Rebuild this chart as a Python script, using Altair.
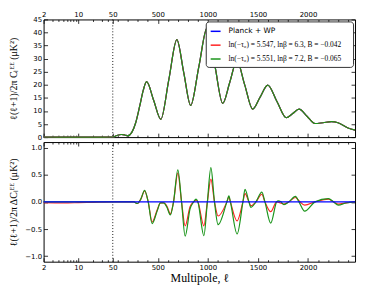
import math
import altair as alt
import pandas as pd

# ---------------- data ----------------
ell_top = [2, 10, 30, 50, 90, 135, 170, 200, 240, 279, 320, 355, 388, 459, 530, 610, 690, 759, 828, 910,
           992, 1070, 1148, 1219, 1290, 1368, 1447, 1522, 1598, 1690, 1783, 1847, 1911, 1990, 2069, 2150,
           2234, 2300, 2400, 2470]
cl_top = [0.05, 0.02, 0.02, 0.05, 0.6, 1.0, 0.8, 0.5, 1.8, 5.5, 12.0, 18.0, 21.2, 14.0, 6.8, 22.0, 37.3, 24.7,
          12.1, 27.0, 41.8, 27.3, 12.9, 21.0, 29.2, 20.0, 10.7, 15.3, 19.9, 13.6, 7.4, 9.0, 10.7, 8.0, 5.2,
          5.5, 5.9, 5.5, 3.5, 2.7]

ell_red = [2, 5, 10, 20, 50, 150, 260, 295, 330, 368, 404, 443, 493, 526, 559, 591, 625, 657, 700, 737,
           773, 822, 858, 882, 900, 960, 995, 1030, 1066, 1102, 1190, 1210, 1225, 1292, 1350, 1371, 1410,
           1430, 1480, 1539, 1570, 1628, 1687, 1760, 1809, 1875, 1910, 1967, 2070, 2204, 2255, 2303, 2380, 2470]
d_red = [-0.015, -0.02, -0.015, -0.008, 0, 0, 0, -0.03, 0.05, 0.20, 0, -0.37, -0.15, -0.02, -0.02, -0.08,
         -0.22, 0, 0.53, 0, -0.44, -0.09, 0, 0.03, 0, -0.44, 0, 0.42, 0, -0.26, 0, 0.09, 0, -0.35, 0, 0.15,
         0, -0.07, 0, 0.14, 0, -0.18, 0, -0.04, 0, 0.08, 0.02, -0.06, 0, 0.05, 0, -0.04, -0.02, 0]

ell_green = [2, 50, 150, 260, 295, 330, 368, 404, 443, 493, 526, 559, 591, 625, 657, 700, 737, 773, 822, 858,
             882, 900, 960, 995, 1030, 1066, 1102, 1190, 1210, 1225, 1292, 1350, 1371, 1410, 1430, 1480, 1539,
             1570, 1628, 1687, 1704, 1730, 1760, 1809, 1875, 1910, 1967, 2070, 2204, 2255, 2303, 2380, 2470]
d_green = [0, 0, 0, 0, -0.03, 0.05, 0.21, 0, -0.40, -0.17, -0.02, -0.02, -0.10, -0.24, 0, 0.59, 0, -0.63,
           -0.13, 0, 0.05, 0, -0.62, 0, 0.63, 0, -0.42, 0, 0.11, 0, -0.59, 0, 0.23, 0, -0.10, 0, 0.18, 0,
           -0.39, 0, 0.02, 0, -0.05, 0, 0.10, 0, -0.17, 0, 0.06, 0, -0.06, -0.02, 0]

ell_blue = [2, 2470]
d_blue = [0, 0]

series = ["Planck + WP",
          "ln(−τ₀) = 5.547,   lnβ = 6.3,   B = −0.042",
          "ln(−τ₀) = 5.551,   lnβ = 7.2,   B = −0.065"]
colors = ["#0000ff", "#ff2222", "#1a941a"]

major_ticks = [2, 10, 50, 500, 1000, 1500, 2000]
minor_ticks = [3, 4, 5, 6, 7, 8, 9, 20, 30, 40] + [v for v in range(100, 2500, 100) if v % 500 != 0]
vline_ell = [50]

top_yticks = [0, 5, 10, 15, 20, 25, 30, 35, 40, 45]
bot_yticks = [-1.0, -0.5, 0.0, 0.5, 1.0]

# ---------------- hybrid log/linear multipole axis ----------------
L_BREAK = 50
LOG_W = 70.0
LIN_K = 0.1013
ELL_MAX = 2470


def pos(l):
    if l <= L_BREAK:
        return LOG_W * math.log(l / 2) / math.log(25)
    return LOG_W + (l - L_BREAK) * LIN_K


XT = (f"datum.ell <= {L_BREAK} ? {LOG_W}*log(datum.ell/2)/log(25) : "
      f"{LOG_W} + (datum.ell-{L_BREAK})*{LIN_K}")
LABEL_EXPR = (f"datum.value <= {LOG_W + 0.01} ? format(2*pow(25, datum.value/{LOG_W}), '.0f') : "
              f"format({L_BREAK} + (datum.value-{LOG_W})/{LIN_K}, '.0f')")
X_MAX = pos(ELL_MAX)
major_pos = [pos(v) for v in major_ticks]
minor_pos = [pos(v) for v in minor_ticks]

W = 315
H_TOP = 119
H_BOT = 121

xs = alt.Scale(domain=[0, X_MAX], nice=False, zero=False)
ys_top = alt.Scale(domain=[0, 45], nice=False, zero=False)
ys_bot = alt.Scale(domain=[-1.1, 1.1], nice=False, zero=False)

TICK_FONT = "DejaVu Sans"
SERIF = "Liberation Serif"


def x_axis(orient, values, size, labels, title=None):
    kw = dict(orient=orient, values=values, tickSize={"expr": str(-size)}, labels=labels,
              domain=False, grid=False, ticks=True, tickColor="black", tickWidth=0.8)
    if labels:
        kw.update(labelExpr=LABEL_EXPR, labelPadding=size + 2, labelFontSize=7, labelFont=TICK_FONT,
                  labelColor="black", labelFlush=False, labelOverlap=False)
    if title:
        kw.update(title=title, titleFont=SERIF, titleFontSize=12, titleFontWeight="normal",
                  titleColor="black", titlePadding=2)
    else:
        kw["title"] = None
    return alt.Axis(**kw)


def y_axis(orient, values, labels, fmt=None, title=None):
    kw = dict(orient=orient, values=values, tickSize={"expr": "-4"}, labels=labels,
              domain=False, grid=False, ticks=True, tickColor="black", tickWidth=0.8)
    if labels:
        kw.update(labelPadding=6, labelFontSize=7, labelFont=TICK_FONT, labelColor="black",
                  labelFlush=False, labelOverlap=False, minExtent=22, maxExtent=22)
        if fmt:
            kw["format"] = fmt
    if title:
        kw.update(title=title, titleFont=SERIF, titleFontSize=10, titleFontWeight="normal",
                  titleColor="black", titlePadding=3)
    else:
        kw["title"] = None
    return alt.Axis(**kw)


def carriers(yscale, ydom, yvals, top_labels, bottom_labels, fmt, ytitle, xtitle):
    df = pd.DataFrame({"ell": [2, ELL_MAX], "v": ydom})
    base = alt.Chart(df).transform_calculate(xt=XT).mark_point(opacity=0, size=1)
    c1 = base.encode(
        x=alt.X("xt:Q", scale=xs, axis=x_axis("bottom", major_pos, 4, bottom_labels, xtitle)),
        y=alt.Y("v:Q", scale=yscale, axis=y_axis("left", yvals, True, fmt, ytitle)))
    c2 = base.encode(
        x=alt.X("xt:Q", scale=xs, axis=x_axis("bottom", minor_pos, 2, False)),
        y=alt.Y("v:Q", scale=yscale, axis=y_axis("right", yvals, False)))
    c3 = base.encode(
        x=alt.X("xt:Q", scale=xs, axis=x_axis("top", major_pos, 4, top_labels)),
        y=alt.Y("v:Q", scale=yscale, axis=None))
    c4 = base.encode(
        x=alt.X("xt:Q", scale=xs, axis=x_axis("top", minor_pos, 2, False)),
        y=alt.Y("v:Q", scale=yscale, axis=None))
    return [c1, c2, c3, c4]


def vline(yscale):
    return (alt.Chart(pd.DataFrame({"ell": vline_ell})).transform_calculate(xt=XT)
            .mark_rule(color="black", strokeDash=[1, 2], strokeWidth=0.9)
            .encode(x=alt.X("xt:Q", scale=xs, axis=None)))


# ---------------- top panel ----------------
top_df = pd.DataFrame({
    "ell": ell_top * 3,
    "cl": cl_top * 3,
    "series": [s for s in series for _ in ell_top],
})
cscale = alt.Scale(domain=series, range=colors)
legend = alt.Legend(
    title=None, orient="top-right", offset=2, symbolType="stroke", symbolSize=100,
    symbolStrokeWidth=1.5, labelFontSize=7.5, labelColor="black",
    labelFont={"expr": f"datum.value == '{series[0]}' ? 'DejaVu Sans' : '{SERIF}'"},
    fillColor="white", strokeColor="#333333", cornerRadius=3, padding=4, rowPadding=4,
    labelLimit=300, labelOffset=7)

top_lines = []
for s in series:
    top_lines.append(
        alt.Chart(top_df).transform_filter(alt.datum.series == s).transform_calculate(xt=XT)
        .mark_line(interpolate="monotone", strokeWidth=1.2)
        .encode(x=alt.X("xt:Q", scale=xs, axis=None),
                y=alt.Y("cl:Q", scale=ys_top, axis=None),
                color=alt.Color("series:N", scale=cscale, legend=legend)))

top = alt.layer(
    vline(ys_top), *top_lines,
    *carriers(ys_top, [0, 45], top_yticks, True, False, None,
              "ℓ(ℓ+1)/2π  Cₗᴱᴱ  (μK²)", None)
).resolve_axis(x="independent", y="independent").properties(width=W, height=H_TOP)

# ---------------- bottom panel ----------------
def resid(ells, vals, color):
    return (alt.Chart(pd.DataFrame({"ell": ells, "d": vals})).transform_calculate(xt=XT)
            .mark_line(interpolate="monotone", strokeWidth=1.2, color=color)
            .encode(x=alt.X("xt:Q", scale=xs, axis=None),
                    y=alt.Y("d:Q", scale=ys_bot, axis=None)))


bottom = alt.layer(
    vline(ys_bot),
    resid(ell_red, d_red, colors[1]),
    resid(ell_green, d_green, colors[2]),
    resid(ell_blue, d_blue, colors[0]),
    *carriers(ys_bot, [-1.1, 1.1], bot_yticks, False, True, ".1f",
              "ℓ(ℓ+1)/2π  ΔCₗᴱᴱ  (μK²)", "Multipole, ℓ")
).resolve_axis(x="independent", y="independent").properties(width=W, height=H_BOT)

chart = (alt.vconcat(top, bottom, spacing=0)
         .resolve_scale(color="independent")
         .resolve_legend(color="independent")
         .configure_view(stroke="black", strokeWidth=1)
         .properties(padding=0, background="white"))

chart.save("out.html", embed_options={"renderer": "svg", "actions": False})
